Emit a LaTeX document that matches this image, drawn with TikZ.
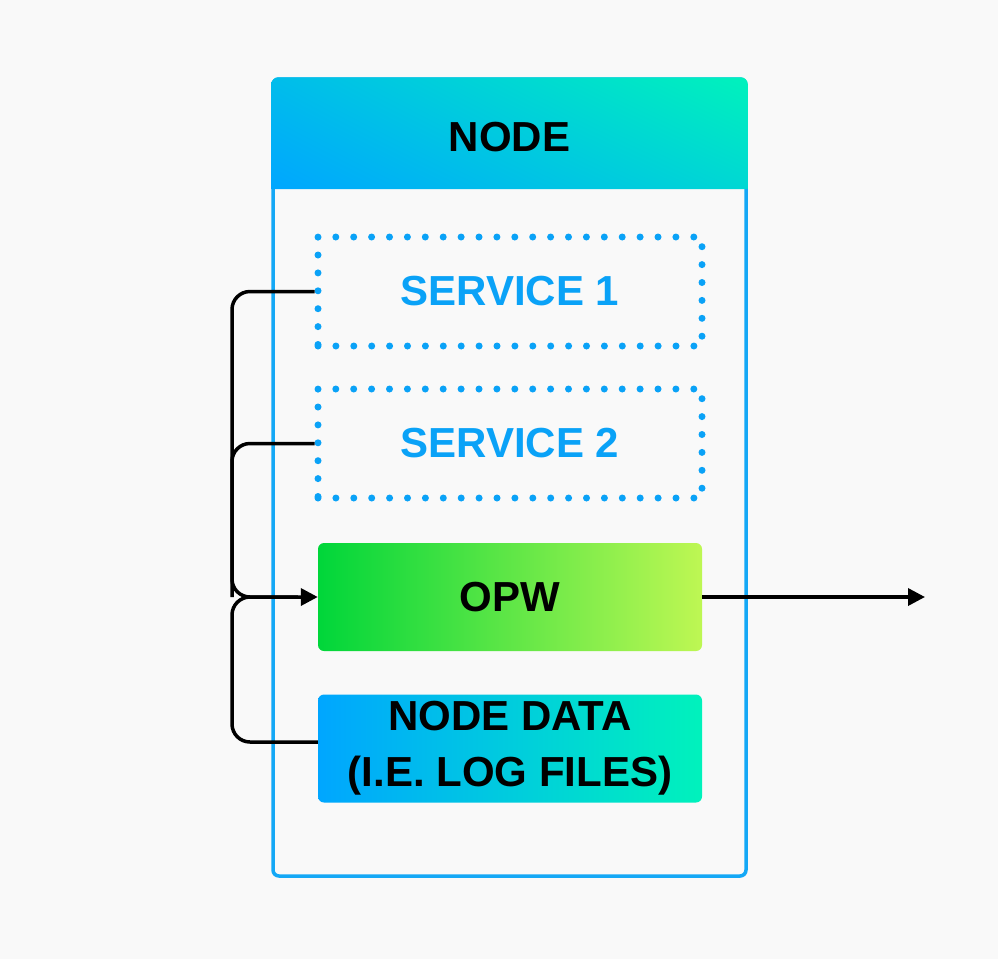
\documentclass[tikz,border=0pt]{standalone}
\usepackage{fontspec}
\setmainfont{Liberation Sans}
\usetikzlibrary{arrows.meta,shadings}
\definecolor{bg}{HTML}{F9F9F9}
\definecolor{frameblue}{HTML}{14A8F6}
\definecolor{dotblue}{HTML}{0AA2F7}
\definecolor{gblue}{HTML}{00A6FF}
\definecolor{gteal}{HTML}{00F2BC}
\definecolor{ggreen}{HTML}{00D63A}
\definecolor{glime}{HTML}{BEF753}
\tikzset{
  lbl/.style={font=\bfseries\fontsize{42}{56}\selectfont, align=center},
  dotbox/.style={draw=dotblue, line width=7pt, line cap=round,
     dash pattern=on 0pt off 17.9pt, minimum width=384pt, minimum height=109pt,
     text=dotblue, lbl, inner sep=0pt},
  solidbox/.style={rounded corners=6pt, minimum width=384pt, minimum height=108pt,
     lbl, inner sep=0pt},
  conn/.style={draw=black, line width=3.5pt, rounded corners=18pt},
  tip/.style={-{Triangle[length=17pt,width=17pt]}}
}
\begin{document}
\begin{tikzpicture}[x=1pt,y=-1pt]
\fill[bg] (0,0) rectangle (998,959);
\useasboundingbox (0,0) rectangle (998,959);
% outer frame
\draw[frameblue, line width=3.5pt, rounded corners=6pt] (273,79) rectangle (746,876);
% header
\shade[lower left=gblue, upper left=gblue!70!gteal, lower right=gblue!35!gteal, upper right=gteal]
  (271.25,189) {[rounded corners=7pt] -- (271.25,77.25) -- (747.75,77.25)} -- (747.75,189) -- cycle;
\node[lbl] (hdr) at (509.5,137) {NODE};
% boxes
\node[dotbox] (s1) at (510,291.5) {SERVICE 1};
\node[dotbox] (s2) at (510,443.5) {SERVICE 2};
\node[solidbox, left color=ggreen, right color=glime] (opw) at (510,597) {OPW};
\node[solidbox, left color=gblue, right color=gteal] (nd) at (510,748.5) {NODE DATA\\(I.E. LOG FILES)};
% connectors
\coordinate (bus) at (232,597);
\coordinate (out) at (925,597);
\draw[conn, tip] (s1.west) -| (bus) -- (opw.west);
\draw[conn] (s2.west) -| (bus);
\draw[conn] ([yshift=6.5pt]nd.west) -| (bus) -- ([xshift=-20pt]opw.west);
\draw[line width=3.5pt, tip] (opw.east) -- (out);
\end{tikzpicture}
\end{document}
